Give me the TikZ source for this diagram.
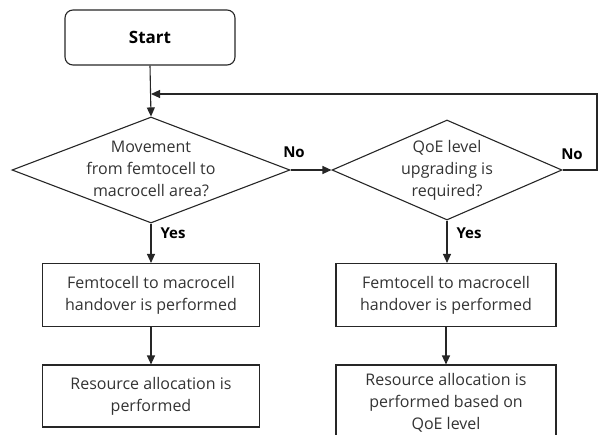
\documentclass[tikz,border=0pt]{standalone}
\usepackage{fontspec}
\setmainfont{Open Sans}
\usetikzlibrary{arrows.meta,shapes.geometric}
\begin{document}
\begin{tikzpicture}[x=1pt,y=-1pt,
  txt/.style={font=\fontsize{16}{22}\selectfont, text=black!80, align=center, inner sep=0pt},
  lbl/.style={font=\fontsize{15}{16}\selectfont\bfseries, text=black, inner sep=0pt},
  box/.style={draw=black!85, line width=1.1pt, minimum width=217pt, minimum height=63pt, inner sep=0pt, align=center, font=\fontsize{16}{22}\selectfont, text=black!80},
  dec/.style={draw=black!85, line width=1.1pt, diamond, inner sep=0pt},
  conn/.style={draw=black!85, line width=1.1pt, -{Triangle[length=9pt,width=8pt]}}]
\useasboundingbox (0,0) rectangle (599,434);
\clip (0,0) rectangle (599,434);
% start
\node[draw=black!85, line width=1.1pt, rounded corners=8pt, minimum width=170pt, minimum height=55pt, font=\fontsize{17}{18}\selectfont\bfseries, text=black] (start) at (150,37.5) {Start};
% diamonds
\node[dec, minimum width=278pt, minimum height=106pt] (d1) at (151,170) {};
\node[txt] (d1t) at (151,169) {Movement\\from femtocell to\\macrocell area?};
\node[dec, minimum width=230pt, minimum height=100pt] (d2) at (447,170) {};
\node[txt] (d2t) at (447,170) {QoE level\\upgrading is\\required?};
% boxes
\node[box] (b1) at (151,295) {Femtocell to macrocell\\handover is performed};
\node[box, minimum height=62pt] (b2) at (151,396) {Resource allocation is\\performed};
\node[box, minimum width=220pt] (b3) at (446,295) {Femtocell to macrocell\\handover is performed};
\node[box, minimum width=220pt, minimum height=75pt] (b4) at (446,402.5) {Resource allocation is\\performed based on\\QoE level};
% helper coordinates
\coordinate (j) at (151,94);
\coordinate (c1) at (597,170);
\coordinate (c2) at (597,94);
% connectors
\draw[conn] (start.south) -- (d1.north);
\draw[conn] (d1.east) -- (d2.west);
\draw[conn] (d1.south) -- (b1.north);
\draw[conn] (b1.south) -- (b2.north);
\draw[conn] (d2.south) -- (d2.south |- b3.north);
\draw[conn] (b3.south) -- (b3.south |- b4.north);
\draw[conn] (d2.east) -- (c1) -- (c2) -- (j);
% labels
\node[lbl] (no1) at (294,152) {No};
\node[lbl] (no2) at (572,154) {No};
\node[lbl] (yes1) at (173,233) {Yes};
\node[lbl] (yes2) at (469,233) {Yes};
\end{tikzpicture}
\end{document}
